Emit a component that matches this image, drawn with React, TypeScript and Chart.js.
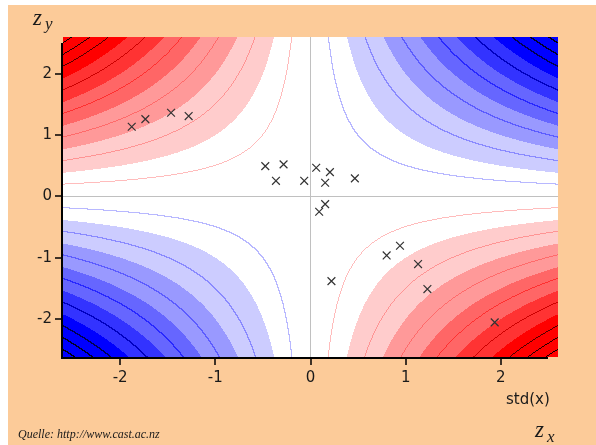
import React, { useEffect, useRef } from 'react';
import { Chart, registerables } from 'chart.js';

Chart.register(...registerables);

// ---- data ----
const xTicks = [-2, -1, 0, 1, 2];
const yTicks = [-2, -1, 0, 1, 2];
const xMin = -2.6;
const xMax = 2.6;
const yMin = -2.62;
const yMax = 2.6;
const axisLineEnd = 2.5;

const pointsX = [-1.878, -1.735, -1.465, -1.28, -0.475, -0.283, -0.363, -0.066, 0.06, 0.204, 0.154, 0.466, 0.154, 0.091, 0.22, 0.8, 0.94, 1.13, 1.228, 1.935];
const pointsY = [1.135, 1.26, 1.364, 1.31, 0.494, 0.522, 0.254, 0.254, 0.467, 0.396, 0.222, 0.294, -0.126, -0.251, -1.382, -0.963, -0.806, -1.104, -1.512, -2.055];

// contour levels of z = zx * zy
const fillLevels = [1, 2, 3, 4, 5];
const lineLevels = [0.5, 1.5, 2.5, 3.5, 4.5, 5.5, 6.0, 6.5];
const negFill = ['#ffcccc', '#ff9999', '#ff6666', '#ff3333', '#ff0000'];
const posFill = ['#ccccff', '#9999ff', '#6666ff', '#3333ff', '#0000ff'];
const negLine = ['#ffbcbc', '#ff9494', '#ff6a6a', '#ff3030', '#cc0000', '#500000', '#280000', '#100000'];
const posLine = ['#b8b8ff', '#8a8aff', '#5c5cff', '#2828ff', '#0000c0', '#000050', '#000028', '#000010'];

const PEACH = '#fccb99';
const TEXT = '#1a1a1a';
const SANS = '"DejaVu Sans", Verdana, sans-serif';
const SERIF = '"Liberation Serif", "Times New Roman", serif';

function hex(c: string): number[] {
  const n = parseInt(c.slice(1), 16);
  return [(n >> 16) & 255, (n >> 8) & 255, n & 255];
}

const contourPlugin = {
  id: 'contour',
  beforeDraw(chart: any) {
    const { ctx, chartArea: a, scales } = chart;
    const W = chart.width;
    const H = chart.height;
    ctx.save();
    ctx.fillStyle = '#ffffff';
    ctx.fillRect(0, 0, W, H);
    ctx.fillStyle = PEACH;
    ctx.fillRect(8, 5, W - 8, H - 5);
    ctx.restore();

    const x0 = Math.round(a.left);
    const y0 = Math.round(a.top);
    const w = Math.round(a.right) - x0;
    const h = Math.round(a.bottom) - y0;
    const xs = new Float64Array(w + 1);
    const ys = new Float64Array(h + 1);
    for (let i = 0; i <= w; i++) xs[i] = scales.x.getValueForPixel(x0 + i + 0.5);
    for (let j = 0; j <= h; j++) ys[j] = scales.y.getValueForPixel(y0 + j + 0.5);

    const nf = negFill.map(hex);
    const pf = posFill.map(hex);
    const nl = negLine.map(hex);
    const pl = posLine.map(hex);

    const lineIdx = (v: number) => {
      const av = Math.abs(v);
      let n = 0;
      for (const L of lineLevels) if (av >= L) n++;
      return v < 0 ? -n : n;
    };
    const fillIdx = (v: number) => {
      const av = Math.abs(v);
      let n = 0;
      for (const L of fillLevels) if (av >= L) n++;
      return n;
    };

    const S = new Int8Array((w + 1) * (h + 1));
    const V = new Float64Array((w + 1) * (h + 1));
    for (let j = 0; j <= h; j++) {
      for (let i = 0; i <= w; i++) {
        const v = xs[i] * ys[j];
        V[j * (w + 1) + i] = v;
        S[j * (w + 1) + i] = lineIdx(v);
      }
    }

    const img = ctx.createImageData(w, h);
    const d = img.data;
    for (let j = 0; j < h; j++) {
      for (let i = 0; i < w; i++) {
        const k = j * (w + 1) + i;
        const s = S[k];
        const sr = S[k + 1];
        const sb = S[k + w + 1];
        let col: number[];
        if (s !== sr || s !== sb) {
          let best = s;
          if (Math.abs(sr) > Math.abs(best)) best = sr;
          if (Math.abs(sb) > Math.abs(best)) best = sb;
          const li = Math.abs(best) - 1;
          col = best < 0 ? nl[li] : pl[li];
        } else {
          const v = V[k];
          const f = fillIdx(v);
          if (f === 0) col = [255, 255, 255];
          else col = v < 0 ? nf[f - 1] : pf[f - 1];
        }
        const p = (j * w + i) * 4;
        d[p] = col[0];
        d[p + 1] = col[1];
        d[p + 2] = col[2];
        d[p + 3] = 255;
      }
    }
    ctx.putImageData(img, x0, y0);
  },
  afterDraw(chart: any) {
    const { ctx, chartArea: a, scales } = chart;
    const sx = scales.x;
    const sy = scales.y;
    ctx.save();
    ctx.fillStyle = '#000000';
    const yTop = Math.round(sy.getPixelForValue(axisLineEnd));
    ctx.fillRect(a.left - 2, yTop, 2, a.bottom + 2 - yTop);
    const xEnd = Math.round(sx.getPixelForValue(axisLineEnd));
    ctx.fillRect(a.left - 2, a.bottom, xEnd - a.left + 2, 2);
    ctx.strokeStyle = '#000000';
    ctx.lineWidth = 1.5;
    ctx.beginPath();
    for (const v of xTicks) {
      const px = Math.round(sx.getPixelForValue(v));
      ctx.moveTo(px, a.bottom + 2);
      ctx.lineTo(px, a.bottom + 8);
    }
    for (const v of yTicks) {
      const py = Math.round(sy.getPixelForValue(v));
      ctx.moveTo(a.left - 2, py);
      ctx.lineTo(a.left - 8, py);
    }
    ctx.stroke();

    ctx.fillStyle = TEXT;
    ctx.textAlign = 'left';
    ctx.textBaseline = 'alphabetic';
    ctx.font = '15px ' + SANS;
    ctx.fillText('std(x)', 506, 404);

    ctx.font = 'italic 23px ' + SERIF;
    ctx.fillText('z', 33, 25);
    ctx.fillText('z', 535, 437);
    ctx.font = 'italic 17px ' + SERIF;
    ctx.fillText('y', 45, 29);
    ctx.fillText('x', 547, 442);

    ctx.font = 'italic 12px ' + SERIF;
    ctx.fillText('Quelle: http://www.cast.ac.nz', 18, 438);
    ctx.restore();
  },
};

export default function App() {
  const ref = useRef<HTMLCanvasElement | null>(null);
  useEffect(() => {
    if (!ref.current) return;
    const chart = new Chart(ref.current, {
      type: 'scatter',
      data: {
        datasets: [
          {
            data: pointsX.map((x, i) => ({ x, y: pointsY[i] })),
            pointStyle: 'crossRot',
            pointRadius: 5.5,
            borderColor: '#333333',
            backgroundColor: '#333333',
            borderWidth: 1.2,
          },
        ],
      },
      options: {
        animation: false,
        responsive: false,
        events: [],
        layout: { padding: { top: 37, right: 38, left: 0, bottom: 0 } },
        plugins: { legend: { display: false }, tooltip: { enabled: false } },
        scales: {
          x: {
            type: 'linear',
            min: xMin,
            max: xMax,
            afterFit: (s: any) => {
              s.height = 88;
            },
            afterBuildTicks: (s: any) => {
              s.ticks = xTicks.map((v) => ({ value: v }));
            },
            grid: {
              drawTicks: false,
              color: (c: any) => (c.tick && c.tick.value === 0 ? '#c0c0c0' : 'rgba(0,0,0,0)'),
              lineWidth: 1,
            },
            border: { display: false },
            ticks: {
              padding: 12,
              color: TEXT,
              autoSkip: false,
              maxRotation: 0,
              font: { family: SANS, size: 15 },
            },
          },
          y: {
            type: 'linear',
            min: yMin,
            max: yMax,
            afterFit: (s: any) => {
              s.width = 63;
            },
            afterBuildTicks: (s: any) => {
              s.ticks = yTicks.map((v) => ({ value: v }));
            },
            grid: {
              drawTicks: false,
              color: (c: any) => (c.tick && c.tick.value === 0 ? '#c0c0c0' : 'rgba(0,0,0,0)'),
              lineWidth: 1,
            },
            border: { display: false },
            ticks: {
              padding: 11,
              color: TEXT,
              autoSkip: false,
              font: { family: SANS, size: 15 },
            },
          },
        },
      },
      plugins: [contourPlugin],
    } as any);
    return () => chart.destroy();
  }, []);
  return (
    <div style={{ position: 'fixed', left: 0, top: 0, width: 596, height: 445, background: '#fff' }}>
      <canvas ref={ref} width={596} height={445} style={{ display: 'block', width: 596, height: 445 }} />
    </div>
  );
}
